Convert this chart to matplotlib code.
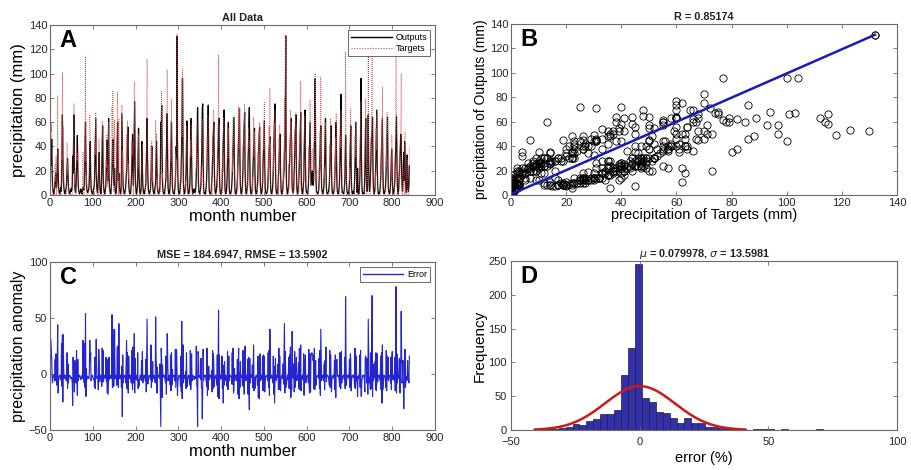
import numpy as np
import matplotlib
matplotlib.use("Agg")
import matplotlib.pyplot as plt
from matplotlib.lines import Line2D

plt.rcParams['font.family'] = ['Liberation Sans', 'DejaVu Sans']

# ---------------- data (monthly, one row per year, 70 years) ----------------
outputs_by_year = [
    [28, 24, 30, 46, 20, 8, 3, 2, 1, 4, 6, 12],
    [18, 14, 6, 10, 22, 38, 20, 7, 3, 2, 1, 3],
    [6, 3, 12, 40, 66, 35, 22, 8, 4, 2, 1, 3],
    [4, 6, 12, 24, 30, 19, 8, 4, 2, 1, 2, 3],
    [5, 3, 4, 8, 32, 18, 42, 66, 25, 8, 3, 2],
    [8, 20, 34, 49, 22, 9, 4, 2, 1, 2, 3, 5],
    [3, 2, 1, 4, 6, 5, 4, 8, 22, 40, 60, 28],
    [12, 5, 3, 2, 3, 4, 6, 14, 36, 44, 18, 6],
    [3, 2, 1, 2, 4, 5, 6, 12, 28, 46, 63, 20],
    [8, 4, 2, 6, 14, 24, 35, 12, 5, 2, 1, 3],
    [20, 38, 57, 26, 9, 4, 2, 1, 3, 6, 14, 30],
    [45, 24, 12, 28, 63, 18, 6, 3, 2, 1, 4, 12],
    [20, 38, 46, 30, 14, 8, 22, 4, 2, 1, 3, 10],
    [40, 60, 30, 12, 18, 8, 4, 2, 1, 3, 20, 67],
    [45, 20, 8, 4, 2, 1, 2, 4, 8, 14, 20, 30],
    [42, 56, 30, 10, 4, 2, 1, 2, 4, 10, 22, 38],
    [50, 20, 8, 30, 57, 77, 25, 8, 3, 1, 2, 6],
    [14, 35, 55, 20, 6, 3, 1, 2, 5, 18, 44, 22],
    [8, 4, 2, 1, 2, 4, 6, 10, 24, 40, 63, 30],
    [12, 5, 2, 1, 2, 3, 5, 14, 26, 40, 18, 8],
    [4, 2, 1, 2, 4, 8, 11, 30, 44, 22, 8, 3],
    [2, 1, 2, 4, 8, 20, 60, 45, 74, 35, 10, 3],
    [2, 1, 1, 3, 5, 9, 14, 30, 50, 67, 25, 6],
    [3, 1, 2, 4, 10, 24, 42, 60, 28, 8, 3, 2],
    [2, 1, 3, 6, 12, 22, 40, 30, 131, 45, 14, 4],
    [2, 1, 2, 4, 11, 14, 26, 50, 70, 96, 35, 8],
    [3, 1, 2, 4, 10, 18, 38, 61, 24, 6, 2, 1],
    [2, 4, 10, 24, 45, 63, 30, 8, 3, 1, 2, 3],
    [5, 3, 2, 4, 7, 16, 30, 48, 72, 40, 10, 3],
    [2, 1, 3, 5, 10, 20, 36, 71, 75, 30, 6, 2],
    [2, 1, 1, 3, 6, 12, 24, 40, 62, 74, 28, 5],
    [2, 1, 1, 2, 4, 11, 16, 28, 44, 52, 60, 25],
    [8, 3, 1, 2, 4, 10, 14, 26, 40, 58, 63, 20],
    [5, 2, 1, 2, 4, 6, 15, 28, 45, 56, 70, 24],
    [6, 2, 1, 3, 6, 14, 28, 44, 60, 25, 6, 2],
    [1, 2, 2, 4, 9, 16, 28, 40, 52, 64, 26, 6],
    [2, 1, 1, 3, 6, 12, 22, 36, 50, 60, 71, 28],
    [8, 3, 1, 2, 4, 10, 20, 34, 48, 58, 68, 22],
    [6, 2, 1, 3, 6, 14, 26, 40, 55, 72, 30, 8],
    [3, 1, 1, 3, 7, 16, 28, 38, 46, 55, 20, 5],
    [2, 1, 2, 4, 10, 18, 30, 42, 48, 56, 22, 6],
    [3, 1, 2, 5, 12, 24, 38, 50, 61, 24, 6, 2],
    [2, 1, 2, 4, 6, 16, 26, 36, 42, 48, 18, 4],
    [2, 1, 2, 5, 10, 22, 38, 52, 64, 75, 26, 6],
    [3, 1, 1, 3, 7, 14, 24, 34, 42, 50, 18, 5],
    [2, 1, 2, 4, 11, 14, 20, 35, 40, 62, 131, 30],
    [8, 3, 1, 2, 5, 10, 18, 28, 38, 46, 54, 63],
    [24, 7, 3, 2, 4, 10, 20, 34, 48, 56, 66, 22],
    [6, 2, 1, 3, 9, 16, 28, 40, 52, 68, 24, 6],
    [3, 1, 2, 5, 14, 30, 50, 70, 30, 8, 3, 2],
    [2, 1, 3, 8, 18, 32, 46, 60, 26, 8, 12, 16],
    [20, 14, 8, 12, 24, 40, 58, 96, 34, 10, 3, 2],
    [2, 1, 2, 4, 10, 20, 32, 44, 57, 22, 6, 3],
    [2, 1, 3, 6, 14, 28, 44, 63, 24, 7, 2, 1],
    [1, 2, 3, 5, 10, 20, 34, 46, 57, 22, 6, 2],
    [2, 1, 2, 4, 9, 18, 30, 44, 60, 24, 7, 2],
    [2, 1, 3, 6, 14, 30, 52, 83, 30, 8, 3, 2],
    [2, 1, 2, 5, 12, 28, 49, 30, 10, 4, 2, 1],
    [2, 1, 4, 10, 24, 40, 57, 22, 6, 2, 1, 2],
    [3, 1, 4, 12, 26, 44, 60, 24, 6, 2, 22, 4],
    [2, 1, 4, 12, 28, 50, 96, 34, 8, 3, 1, 2],
    [2, 1, 6, 18, 38, 63, 26, 8, 3, 12, 30, 66],
    [24, 8, 3, 6, 14, 28, 40, 46, 53, 64, 22, 6],
    [2, 1, 3, 8, 18, 36, 52, 70, 26, 7, 2, 1],
    [2, 1, 3, 6, 14, 26, 38, 48, 63, 24, 6, 2],
    [1, 2, 3, 6, 12, 24, 38, 52, 64, 24, 6, 2],
    [2, 1, 3, 8, 18, 28, 38, 16, 5, 2, 1, 3],
    [6, 12, 26, 40, 52, 65, 28, 8, 3, 1, 4, 14],
    [20, 30, 38, 50, 44, 20, 8, 3, 10, 24, 35, 12],
    [44, 30, 12, 5, 2, 6, 33, 14, 5, 3, 8, 24],
]

targets_by_year = [
    [35, 55, 52, 60, 16, 0, 1, 0, 0, 1, 0, 25],
    [12, 32, 2, 0, 33, 82, 3, 0, 0, 0, 0, 1],
    [1, 0, 39, 29, 101, 10, 57, 13, 0, 0, 0, 0],
    [0, 0, 10, 43, 17, 28, 0, 0, 0, 0, 0, 1],
    [1, 0, 0, 0, 4, 33, 35, 75, 9, 20, 0, 0],
    [0, 41, 28, 30, 35, 3, 0, 0, 0, 0, 0, 0],
    [0, 0, 0, 0, 36, 1, 0, 0, 49, 28, 114, 8],
    [17, 0, 0, 0, 0, 1, 2, 16, 66, 55, 37, 0],
    [0, 0, 0, 0, 0, 0, 2, 0, 43, 33, 68, 51],
    [17, 0, 0, 2, 0, 46, 45, 5, 0, 0, 0, 0],
    [9, 61, 50, 47, 2, 0, 0, 0, 0, 2, 29, 23],
    [50, 7, 25, 10, 60, 33, 1, 0, 0, 0, 0, 9],
    [73, 26, 86, 49, 3, 17, 62, 0, 0, 0, 0, 0],
    [64, 85, 22, 0, 63, 14, 0, 0, 0, 0, 8, 74],
    [7, 37, 0, 0, 0, 0, 0, 0, 0, 25, 50, 17],
    [61, 45, 13, 26, 0, 0, 0, 0, 0, 2, 43, 33],
    [36, 44, 0, 22, 93, 60, 39, 3, 0, 0, 0, 0],
    [33, 22, 50, 9, 0, 0, 0, 0, 0, 30, 38, 42],
    [0, 0, 0, 0, 0, 0, 0, 23, 8, 58, 112, 22],
    [3, 0, 0, 0, 0, 0, 0, 40, 14, 45, 11, 19],
    [0, 0, 0, 0, 0, 0, 62, 44, 50, 5, 14, 0],
    [0, 0, 0, 0, 17, 2, 13, 68, 86, 14, 18, 0],
    [0, 0, 0, 0, 0, 1, 30, 12, 62, 103, 44, 0],
    [0, 0, 0, 0, 0, 41, 27, 79, 18, 12, 0, 0],
    [0, 0, 0, 0, 34, 10, 47, 52, 132, 26, 7, 0],
    [0, 0, 0, 0, 0, 30, 10, 97, 48, 104, 61, 0],
    [0, 0, 0, 0, 12, 5, 57, 55, 13, 0, 0, 0],
    [0, 0, 0, 45, 31, 58, 48, 2, 0, 0, 0, 0],
    [0, 0, 0, 0, 3, 41, 21, 35, 25, 60, 27, 0],
    [0, 0, 0, 0, 24, 8, 24, 31, 62, 52, 0, 0],
    [0, 0, 0, 0, 0, 1, 47, 21, 66, 60, 35, 0],
    [0, 0, 0, 0, 0, 14, 0, 49, 31, 70, 66, 14],
    [3, 0, 0, 0, 0, 0, 31, 6, 49, 115, 41, 37],
    [0, 0, 0, 0, 0, 22, 2, 33, 19, 64, 60, 35],
    [0, 0, 0, 0, 0, 3, 48, 30, 55, 41, 0, 0],
    [0, 0, 0, 0, 0, 35, 19, 63, 35, 50, 31, 0],
    [0, 0, 0, 0, 0, 25, 4, 42, 73, 38, 72, 16],
    [19, 0, 0, 0, 0, 0, 41, 23, 51, 40, 75, 47],
    [0, 0, 0, 0, 0, 27, 8, 55, 39, 40, 44, 0],
    [0, 0, 0, 0, 15, 4, 36, 64, 31, 52, 7, 0],
    [0, 0, 0, 0, 0, 34, 9, 52, 26, 60, 40, 0],
    [0, 0, 0, 0, 28, 9, 55, 37, 77, 8, 0, 0],
    [0, 0, 0, 0, 0, 35, 14, 57, 23, 88, 26, 0],
    [0, 0, 0, 0, 2, 38, 20, 59, 38, 70, 40, 0],
    [0, 0, 0, 0, 16, 0, 47, 20, 58, 45, 3, 0],
    [0, 0, 0, 0, 20, 5, 38, 80, 23, 82, 132, 18],
    [0, 0, 0, 0, 0, 25, 5, 45, 26, 70, 33, 60],
    [10, 45, 0, 0, 0, 19, 4, 54, 36, 64, 68, 37],
    [0, 0, 0, 0, 19, 3, 51, 26, 41, 94, 9, 0],
    [0, 0, 0, 0, 32, 11, 63, 65, 47, 0, 0, 0],
    [0, 0, 0, 0, 40, 20, 29, 78, 10, 22, 30, 35],
    [38, 32, 20, 28, 11, 63, 44, 100, 46, 0, 0, 0],
    [0, 0, 0, 0, 24, 7, 53, 25, 97, 37, 0, 0],
    [0, 0, 0, 0, 23, 14, 56, 60, 48, 0, 0, 0],
    [0, 0, 0, 0, 0, 41, 22, 63, 55, 6, 0, 0],
    [0, 0, 0, 0, 21, 4, 47, 23, 67, 36, 20, 0],
    [0, 0, 0, 0, 3, 49, 39, 70, 50, 0, 0, 0],
    [0, 0, 0, 0, 27, 15, 118, 46, 0, 0, 0, 0],
    [0, 0, 0, 23, 12, 58, 71, 7, 0, 0, 0, 0],
    [0, 0, 0, 0, 49, 31, 55, 40, 0, 0, 2, 0],
    [0, 0, 0, 29, 16, 71, 77, 14, 2, 0, 0, 0],
    [0, 0, 0, 2, 53, 79, 40, 0, 0, 26, 12, 115],
    [41, 0, 0, 0, 0, 47, 27, 67, 123, 44, 31, 0],
    [0, 0, 0, 19, 4, 55, 37, 66, 44, 0, 0, 0],
    [0, 0, 0, 0, 30, 12, 57, 22, 89, 10, 0, 0],
    [0, 0, 0, 0, 0, 45, 23, 68, 60, 39, 0, 0],
    [0, 0, 0, 0, 33, 14, 50, 36, 0, 0, 0, 0],
    [0, 27, 11, 57, 130, 48, 46, 0, 0, 0, 0, 26],
    [34, 13, 50, 60, 100, 37, 0, 0, 22, 12, 4, 0],
    [40, 52, 0, 0, 0, 0, 30, 26, 0, 0, 0, 40],
]

# regression fit line shown in panel B
fit_slope = 0.99
fit_intercept = 0.5
r_value = "0.85174"

# error histogram (panel D)
hist_first_edge = -36.9
hist_bin_width = 2.7
hist_counts = [1, 2, 3, 5, 9, 8, 14, 16, 23, 23, 30, 81, 122, 245,
               47, 42, 27, 25, 18, 11, 18, 11, 10, 5, 5, 3, 3, 2, 2, 0,
               1, 2, 2, 0, 2, 0, 0, 0, 0, 1]
err_mu = 0.079978
err_sigma = 13.5981

mse_text = "MSE = 184.6947, RMSE = 13.5902"

# ---------------- derived series ----------------
outputs = np.array(outputs_by_year, dtype=float).ravel()
targets = np.array(targets_by_year, dtype=float).ravel()
months = np.arange(1, outputs.size + 1)
errors = targets - outputs

# ---------------- figure ----------------
W, H = 911, 470
fig = plt.figure(figsize=(W / 100, H / 100), dpi=100)

def rect(l, t, r, b):
    return [l / W, 1 - b / H, (r - l) / W, (b - t) / H]

axA = fig.add_axes(rect(50, 25, 435, 195))
axB = fig.add_axes(rect(511, 24, 897, 195))
axC = fig.add_axes(rect(50, 262, 435, 430))
axD = fig.add_axes(rect(511, 261, 897, 430))

spine_col = '#6a6a6a'
tick_col = '#262626'
for ax in (axA, axB, axC, axD):
    for s in ax.spines.values():
        s.set_color(spine_col)
        s.set_linewidth(0.8)
    ax.tick_params(direction='in', top=True, right=True, length=3, width=0.6,
                   color=spine_col, labelsize=8, labelcolor=tick_col, pad=2)

def letter(ax, s):
    ax.text(0.025, 0.975, s, transform=ax.transAxes, fontsize=17,
            fontweight='bold', va='top', ha='left', color='black')

title_kw = dict(fontsize=7.8, fontweight='bold', pad=3, color='#222222')
target_col = '#d84a4a'

# Panel A
axA.plot(months, outputs, color='black', lw=0.9)
axA.plot(months, targets, color=target_col, lw=0.6, ls=(0, (1, 1.4)))
axA.set_xlim(0, 900)
axA.set_ylim(0, 140)
axA.set_xticks(np.arange(0, 901, 100))
axA.set_yticks(np.arange(0, 141, 20))
axA.set_xlabel('month number', fontsize=12, labelpad=1)
axA.set_ylabel('precipitation (mm)', fontsize=12, labelpad=2)
axA.set_title('All Data', **title_kw)
hA = [Line2D([], [], color='black', lw=1.0),
      Line2D([], [], color=target_col, lw=0.8, ls=(0, (1, 1.4)))]
legA = axA.legend(hA, ['Outputs', 'Targets'], loc='upper right', fontsize=6.5,
                  frameon=True, fancybox=False, edgecolor='#444444',
                  handlelength=4.5, borderpad=0.3, labelspacing=0.2,
                  handletextpad=0.4, borderaxespad=0.6)
legA.get_frame().set_linewidth(0.7)
letter(axA, 'A')

# Panel B
axB.plot(targets, outputs, ls='none', marker='o', ms=5.2, mfc='none',
         mec='black', mew=0.6)
xf = np.array([targets.min(), targets.max()])
axB.plot(xf, fit_slope * xf + fit_intercept, color='#1a1ab8', lw=1.8)
axB.set_xlim(0, 140)
axB.set_ylim(0, 140)
axB.set_xticks(np.arange(0, 141, 20))
axB.set_yticks(np.arange(0, 141, 20))
axB.set_xlabel('precipitation of Targets (mm)', fontsize=10.5, labelpad=0)
axB.set_ylabel('precipitation of Outputs (mm)', fontsize=10, labelpad=1)
axB.set_title('R = ' + r_value, **title_kw)
letter(axB, 'B')

# Panel C
axC.plot(months, errors, color='#2424d0', lw=0.8)
axC.set_xlim(0, 900)
axC.set_ylim(-50, 100)
axC.set_xticks(np.arange(0, 901, 100))
axC.set_yticks([-50, 0, 50, 100])
axC.set_xlabel('month number', fontsize=12, labelpad=1)
axC.set_ylabel('precipitation anomaly', fontsize=11.5, labelpad=2)
axC.set_title(mse_text, **title_kw)
hC = [Line2D([], [], color='#2424d0', lw=1.0)]
legC = axC.legend(hC, ['Error'], loc='upper right', fontsize=6.5,
                  frameon=True, fancybox=False, edgecolor='#444444',
                  handlelength=4.5, borderpad=0.3, handletextpad=0.4,
                  borderaxespad=0.6)
legC.get_frame().set_linewidth(0.7)
letter(axC, 'C')

# Panel D
counts = np.array(hist_counts, dtype=float)
lefts = hist_first_edge + hist_bin_width * np.arange(counts.size)
axD.bar(lefts, counts, width=hist_bin_width, align='edge', color='#3430a8',
        edgecolor='#1c1c50', linewidth=0.5)
xs = np.linspace(err_mu - 3 * err_sigma, err_mu + 3 * err_sigma, 200)
pdf = np.exp(-0.5 * ((xs - err_mu) / err_sigma) ** 2) / (err_sigma * np.sqrt(2 * np.pi))
axD.plot(xs, pdf * counts.sum() * hist_bin_width, color='#d01818', lw=1.8)
axD.set_xlim(-50, 100)
axD.set_ylim(0, 250)
axD.set_xticks([-50, 0, 50, 100])
axD.set_yticks(np.arange(0, 251, 50))
axD.tick_params(axis='x', pad=5)
axD.tick_params(axis='y', pad=3)
axD.set_xlabel('error (%)', fontsize=10.5, labelpad=3)
axD.set_ylabel('Frequency', fontsize=11, labelpad=1)
axD.set_title(r'$\mu$ = 0.079978, $\sigma$ = 13.5981', **title_kw)
letter(axD, 'D')

fig.savefig('out.png', dpi=100)
